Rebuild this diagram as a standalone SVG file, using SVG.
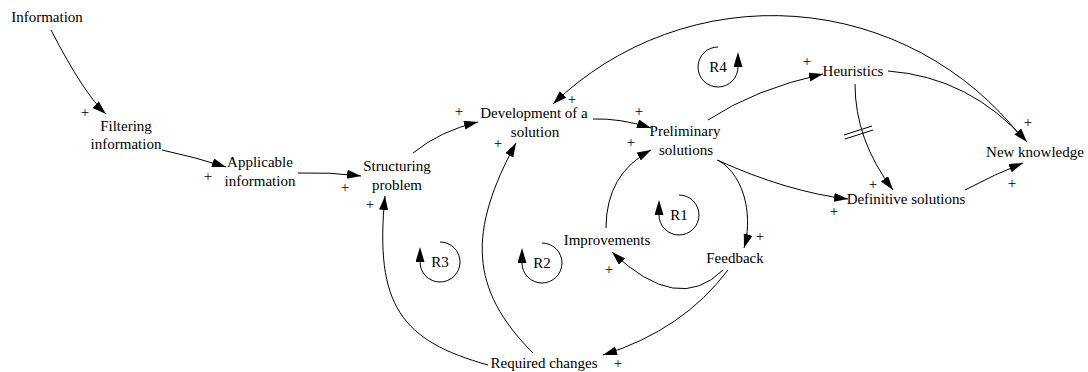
<svg xmlns="http://www.w3.org/2000/svg" width="1088" height="372" viewBox="0 0 1088 372" font-family="'Liberation Serif', serif">
  <defs>
    <marker id="ah" markerUnits="userSpaceOnUse" markerWidth="15" markerHeight="10" refX="14" refY="4.5" orient="auto">
      <path d="M0,0 L14,4.5 L0,9 z" fill="#000"/>
    </marker>
    <marker id="loophead" markerUnits="userSpaceOnUse" markerWidth="16" markerHeight="10" refX="0" refY="4.5" orient="auto">
      <path d="M0,0 L15,4.5 L0,9 z" fill="#000"/>
    </marker>
    <style>
      text { font-family: 'Liberation Serif', 'Times New Roman', serif; font-size: 15px; fill: #000; }
      .node text { text-anchor: middle; }
      .sign { text-anchor: middle; font-size: 15px; }
      .link { fill: none; stroke: #000; stroke-width: 1; marker-end: url(#ah); }
      .loop path { fill: none; stroke: #000; stroke-width: 1; marker-end: url(#loophead); }
      .loop text { text-anchor: middle; }
      .delay { stroke: #000; stroke-width: 1; }
    </style>
  </defs>
  <rect width="1088" height="372" fill="#fff"/>

  <!-- causal links with polarity signs -->
  <g id="connectors">
    <g id="l-info-filter"><path class="link" d="M51,30 Q84,94 106,114"/><text class="sign" x="85" y="117">+</text></g>
    <g id="l-filter-appl"><path class="link" d="M162,150 Q195,157 226,167"/><text class="sign" x="208" y="181">+</text></g>
    <g id="l-appl-struct"><path class="link" d="M298,173 Q330,172 361,176"/><text class="sign" x="345" y="192">+</text></g>
    <g id="l-struct-dev"><path class="link" d="M413,153 Q440,131 478,122"/><text class="sign" x="459" y="116">+</text></g>
    <g id="l-dev-prelim"><path class="link" d="M593,119 Q620,118 651,128"/><text class="sign" x="639" y="116">+</text></g>
    <g id="l-impr-prelim"><path class="link" d="M606,228 Q606,174 651,150"/><text class="sign" x="631" y="147">+</text></g>
    <g id="l-prelim-feed"><path class="link" d="M718,160 C748,178 752,222 744,248"/><text class="sign" x="760" y="241">+</text></g>
    <g id="l-feed-impr"><path class="link" d="M723,270 Q678,315 612,252"/><text class="sign" x="609" y="274">+</text></g>
    <g id="l-feed-req"><path class="link" d="M728,270 Q683,330 603,355"/><text class="sign" x="618" y="368">+</text></g>
    <g id="l-req-struct"><path class="link" d="M488,365 C402,341 374,306 385,196"/><text class="sign" x="370" y="209">+</text></g>
    <g id="l-req-dev"><path class="link" d="M533,353 C469,289 468,231 516,143"/><text class="sign" x="498" y="148">+</text></g>
    <g id="l-prelim-heur"><path class="link" d="M708,120 Q755,89 823,74"/><text class="sign" x="807" y="66">+</text></g>
    <g id="l-heur-know"><path class="link" d="M888,71 Q970,77 1027,142"/><text class="sign" x="1028" y="127">+</text></g>
    <g id="l-know-dev"><path class="link" d="M1022,138 A316,316 0 0 0 553,104"/><text class="sign" x="572" y="104">+</text></g>
    <g id="l-heur-def">
      <path class="link" d="M855,84 Q855,140 893,190"/>
      <line class="delay" x1="844" y1="135" x2="872" y2="126"/>
      <line class="delay" x1="845" y1="139" x2="873" y2="130"/>
      <text class="sign" x="873" y="189">+</text>
    </g>
    <g id="l-prelim-def"><path class="link" d="M717,160 Q788,192 848,199"/><text class="sign" x="834" y="216">+</text></g>
    <g id="l-def-know"><path class="link" d="M965,190 Q995,174 1023,163"/><text class="sign" x="1012" y="188">+</text></g>
  </g>

  <!-- loop identifiers -->
  <g id="loops" class="loop">
    <g id="R1"><path d="M679,195 A20,20 0 1 1 659,215"/><text x="679" y="220">R1</text></g>
    <g id="R2"><path d="M542,243 A20,20 0 1 1 522,263"/><text x="542" y="268">R2</text></g>
    <g id="R3"><path d="M440,242 A20,20 0 1 1 420,262"/><text x="440" y="267">R3</text></g>
    <g id="R4"><path d="M718,47 A20,20 0 1 0 738,67"/><text x="718" y="72">R4</text></g>
  </g>

  <!-- variables -->
  <g id="information" class="node"><text x="47" y="22">Information</text></g>
  <g id="filtering-information" class="node"><text x="126" y="131">Filtering</text><text x="126" y="149">information</text></g>
  <g id="applicable-information" class="node"><text x="260" y="167">Applicable</text><text x="260" y="186">information</text></g>
  <g id="structuring-problem" class="node"><text x="397" y="171">Structuring</text><text x="397" y="190">problem</text></g>
  <g id="development-solution" class="node"><text x="534" y="118">Development of a</text><text x="535" y="137">solution</text></g>
  <g id="preliminary-solutions" class="node"><text x="685" y="136">Preliminary</text><text x="686" y="155">solutions</text></g>
  <g id="heuristics" class="node"><text x="853" y="76">Heuristics</text></g>
  <g id="new-knowledge" class="node"><text x="1035" y="157">New knowledge</text></g>
  <g id="definitive-solutions" class="node"><text x="906" y="204">Definitive solutions</text></g>
  <g id="improvements" class="node"><text x="607" y="245">Improvements</text></g>
  <g id="feedback" class="node"><text x="735" y="263">Feedback</text></g>
  <g id="required-changes" class="node"><text x="544" y="368">Required changes</text></g>
</svg>
